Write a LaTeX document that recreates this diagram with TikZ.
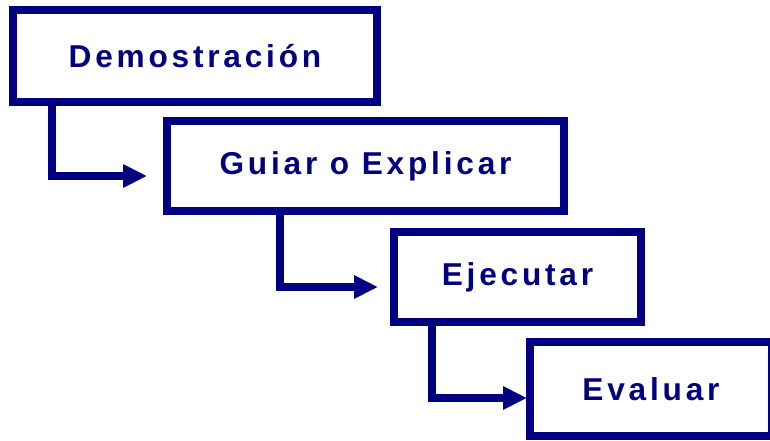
\documentclass[tikz,border=0pt]{standalone}
\usepackage{fontspec}
\newfontfamily\stepfont{Liberation Sans}[LetterSpace=12]
\usepackage{tikz}
\usetikzlibrary{arrows.meta}
\usetikzlibrary{positioning}
\usetikzlibrary{calc}
\definecolor{navy}{RGB}{0,0,128}
\tikzstyle{stepbox}=[draw=navy,line width=4.8pt,rectangle,outer sep=0pt,inner sep=0pt,text=navy,font=\stepfont\fontsize{18}{20}\bfseries]
\tikzstyle{link}=[draw=navy,line width=4.8pt,line join=miter,-{Triangle[length=0.48cm,width=0.44cm]}]

\begin{document}
\begin{tikzpicture}[x=0.02cm,y=-0.02cm]
  \useasboundingbox (0,0) rectangle (770,440);
  \clip (0,0) rectangle (770,440);
  \node[stepbox,minimum width=7.28cm,minimum height=1.84cm] (demo) at (195,56) {Demostración};
  \node[stepbox,minimum width=7.94cm,minimum height=1.80cm] (guia) at (365.5,166) {Guiar o Explicar};
  \node[stepbox,minimum width=4.94cm,minimum height=1.80cm] (ejec) at (517.5,277) {Ejecutar};
  \node[stepbox,minimum width=4.84cm,minimum height=1.88cm] (eval) at (651,389) {Evaluar};
  % free ends of the connectors
  \coordinate (e1) at ($(guia.west)+(-20,10)$);
  \coordinate (e2) at ($(ejec.west)+(-16,10)$);
  \coordinate (e3) at ($(eval.west)+(-3,9)$);
  \draw[link] ($(demo.south west)+(39,0)$) |- (e1);
  \draw[link] ($(guia.south west)+(113,0)$) |- (e2);
  \draw[link] ($(ejec.south west)+(38,0)$) |- (e3);
\end{tikzpicture}
\end{document}
